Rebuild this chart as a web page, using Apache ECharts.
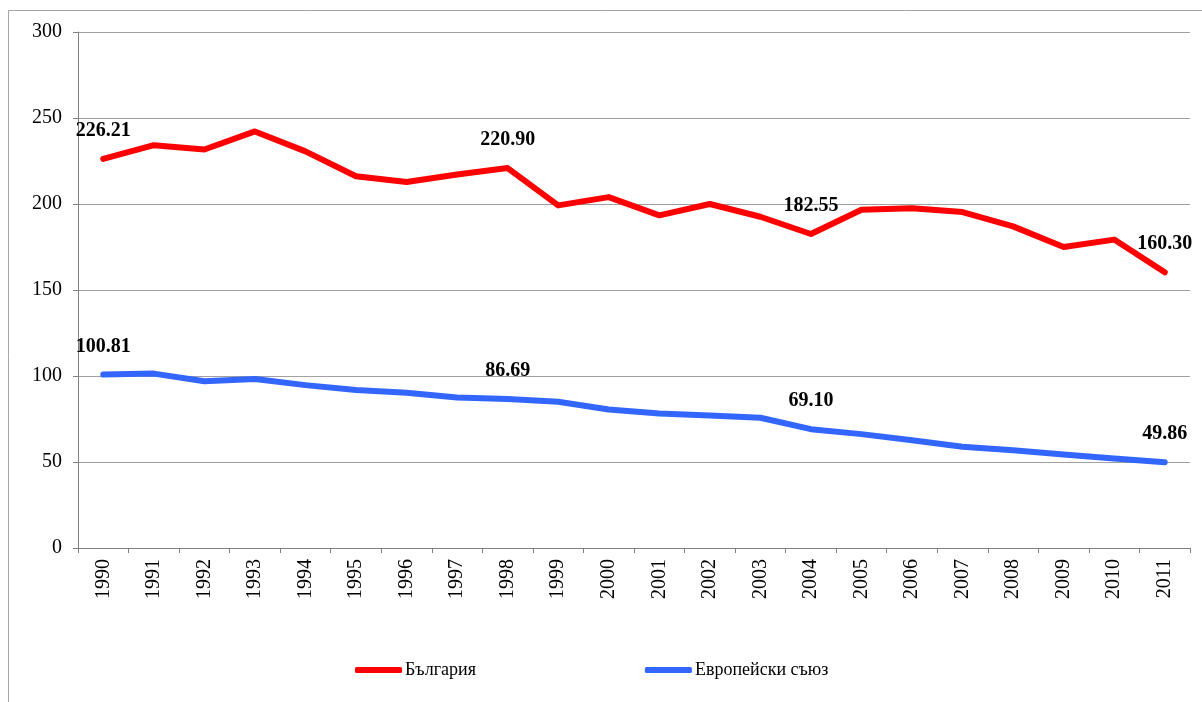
<!DOCTYPE html>
<html>
<head>
<meta charset="utf-8">
<script src="https://cdn.jsdelivr.net/npm/echarts@6/dist/echarts.min.js"></script>
<style>
  html, body { margin: 0; padding: 0; background: #fff; }
  #chart { width: 1202px; height: 702px; }
</style>
</head>
<body>
<div id="chart"></div>
<script>
// години
var years = ["1990", "1991", "1992", "1993", "1994", "1995", "1996", "1997", "1998", "1999", "2000",
  "2001", "2002", "2003", "2004", "2005", "2006", "2007", "2008", "2009", "2010", "2011"];
var bulgaria = [226.21, 234.2, 231.7, 242.2, 230.6, 216.1, 212.8, 217.2, 220.90, 199.2, 204.0,
  193.4, 200.0, 192.6, 182.55, 196.7, 197.5, 195.3, 187.0, 175.0, 179.3, 160.30];
var eu = [100.81, 101.4, 97.0, 98.2, 94.7, 91.8, 90.2, 87.5, 86.69, 85.0, 80.5,
  78.2, 77.1, 75.7, 69.10, 66.2, 62.7, 58.9, 56.9, 54.4, 52.1, 49.86];
var seriesNames = ["България", "Европейски съюз"];
// точки с надпис
var labelled = [0, 8, 14, 21];
var yTicks = [0, 300, 50];

var font = "'Liberation Serif', 'Times New Roman', serif";

function withLabels(arr) {
  return arr.map(function (v, i) {
    return {
      value: v,
      label: { show: labelled.indexOf(i) >= 0 }
    };
  });
}

var myChart = echarts.init(document.getElementById("chart"));
var option = {
  animation: false,
  backgroundColor: "#fff",
  graphic: [
    {
      type: "rect",
      shape: { x: 8.5, y: 10.5, width: 1400, height: 900 },
      style: { fill: "none", stroke: "#a6a6a6", lineWidth: 1 },
      silent: true
    }
  ],
  legend: {
    data: seriesNames,
    left: 350,
    top: 656,
    itemGap: 169,
    itemWidth: 47,
    itemHeight: 6,
    icon: "roundRect",
    textStyle: { fontFamily: font, fontSize: 18, color: "#000", padding: [0, 0, 0, -2] }
  },
  grid: {
    left: 78,
    right: 12,
    top: 32,
    bottom: 154,
    containLabel: false
  },
  xAxis: {
    type: "category",
    data: years,
    boundaryGap: true,
    axisLine: { lineStyle: { color: "#808080", width: 1 } },
    axisTick: { show: true, length: 5, lineStyle: { color: "#808080" } },
    axisLabel: {
      rotate: 90,
      margin: 11,
      interval: 0,
      fontFamily: font,
      fontSize: 20,
      color: "#000"
    }
  },
  yAxis: {
    type: "value",
    min: yTicks[0],
    max: yTicks[1],
    interval: yTicks[2],
    axisLine: { show: true, lineStyle: { color: "#808080", width: 1 } },
    axisTick: { show: true, length: 5, lineStyle: { color: "#808080" } },
    splitLine: { lineStyle: { color: "#a0a0a0", width: 1 } },
    axisLabel: {
      margin: 16,
      fontFamily: font,
      fontSize: 20,
      color: "#000"
    }
  },
  series: [
    {
      name: seriesNames[0],
      type: "line",
      data: withLabels(bulgaria),
      color: "#ff0000",
      showSymbol: true,
      symbolSize: 0,
      lineStyle: { width: 6, cap: "round", join: "round" },
      label: {
        position: "top",
        distance: 18,
        formatter: function (p) { return p.value.toFixed(2); },
        fontFamily: font,
        fontSize: 20,
        fontWeight: "bold",
        color: "#000"
      }
    },
    {
      name: seriesNames[1],
      type: "line",
      data: withLabels(eu),
      color: "#3366ff",
      showSymbol: true,
      symbolSize: 0,
      lineStyle: { width: 6, cap: "round", join: "round" },
      label: {
        position: "top",
        distance: 18,
        formatter: function (p) { return p.value.toFixed(2); },
        fontFamily: font,
        fontSize: 20,
        fontWeight: "bold",
        color: "#000"
      }
    }
  ]
};
myChart.setOption(option);
</script>
</body>
</html>
